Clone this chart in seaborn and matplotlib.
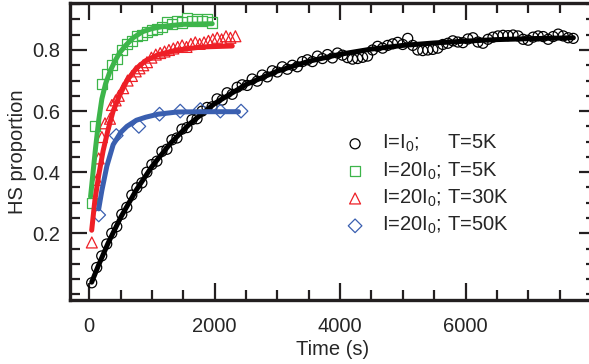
import numpy as np
import pandas as pd
import seaborn as sns
import matplotlib.pyplot as plt
from matplotlib.ticker import MultipleLocator, FixedLocator

# data
black_t = [38, 118, 198, 278, 358, 438, 518, 598, 678, 758,
           838, 918, 998, 1078, 1158, 1238, 1318, 1398, 1478, 1558,
           1638, 1718, 1798, 1878, 1958, 2038, 2118, 2198, 2278, 2358,
           2438, 2518, 2598, 2678, 2758, 2838, 2918, 2998, 3078, 3158,
           3238, 3318, 3398, 3478, 3558, 3638, 3718, 3798, 3878, 3958,
           4038, 4118, 4198, 4278, 4358, 4438, 4518, 4598, 4678, 4758,
           4838, 4918, 4998, 5078, 5158, 5238, 5318, 5398, 5478, 5558,
           5638, 5718, 5798, 5878, 5958, 6038, 6118, 6198, 6278, 6358,
           6438, 6518, 6598, 6678, 6758, 6838, 6918, 6998, 7078, 7158,
           7238, 7318, 7398, 7478, 7558, 7638, 7718]
black_y = [0.038, 0.088, 0.126, 0.165, 0.200, 0.222, 0.262, 0.285, 0.325, 0.349,
           0.365, 0.400, 0.425, 0.436, 0.468, 0.475, 0.506, 0.512, 0.541, 0.546,
           0.572, 0.575, 0.600, 0.612, 0.614, 0.640, 0.636, 0.660, 0.655, 0.678,
           0.686, 0.684, 0.705, 0.698, 0.718, 0.712, 0.732, 0.728, 0.745, 0.737,
           0.750, 0.745, 0.762, 0.768, 0.762, 0.780, 0.772, 0.785, 0.774, 0.790,
           0.783, 0.775, 0.770, 0.772, 0.776, 0.780, 0.800, 0.812, 0.806, 0.815,
           0.820, 0.825, 0.818, 0.838, 0.815, 0.800, 0.798, 0.800, 0.802, 0.806,
           0.818, 0.822, 0.830, 0.826, 0.824, 0.836, 0.840, 0.826, 0.822, 0.835,
           0.842, 0.846, 0.848, 0.847, 0.849, 0.846, 0.835, 0.832, 0.842, 0.846,
           0.844, 0.835, 0.844, 0.852, 0.846, 0.840, 0.838]
black_fit_t = [38, 150, 300, 500, 750, 1000, 1300, 1600, 2000, 2500, 3000, 3500,
               4000, 4500, 5000, 5500, 6000, 6500, 7000, 7720]
black_fit_y = [0.040, 0.097, 0.168, 0.252, 0.342, 0.419, 0.496, 0.558, 0.625, 0.687,
               0.731, 0.763, 0.786, 0.803, 0.815, 0.823, 0.829, 0.834, 0.837, 0.840]

green_t = [40, 90, 200, 280, 360, 440, 520, 600, 680, 760, 840, 920, 1000,
           1080, 1160, 1240, 1320, 1400, 1480, 1560, 1640, 1720, 1800, 1880, 1960]
green_y = [0.30, 0.55, 0.69, 0.72, 0.75, 0.77, 0.80, 0.82, 0.83, 0.845, 0.85, 0.86, 0.865,
           0.87, 0.875, 0.89, 0.885, 0.895, 0.89, 0.905, 0.895, 0.90, 0.895, 0.90, 0.89]
green_fit_t = [20, 60, 100, 150, 200, 260, 330, 400, 480, 580, 700, 850, 1000, 1200, 1500, 1960]
green_fit_y = [0.32, 0.40, 0.48, 0.57, 0.64, 0.69, 0.73, 0.76, 0.79, 0.815, 0.84, 0.86,
               0.87, 0.878, 0.884, 0.886]

red_t = [40, 120, 150, 200, 250, 330, 360, 420, 470, 540, 610, 680, 740, 800, 860, 920,
         990, 1060, 1130, 1200, 1270, 1340, 1410, 1480, 1550, 1620, 1690, 1760, 1830,
         1900, 1970, 2040, 2110, 2180, 2250, 2330]
red_y = [0.17, 0.375, 0.445, 0.515, 0.56, 0.575, 0.62, 0.635, 0.65, 0.675, 0.70, 0.715,
         0.73, 0.74, 0.75, 0.76, 0.775, 0.785, 0.79, 0.795, 0.80, 0.805, 0.81, 0.815,
         0.81, 0.82, 0.825, 0.82, 0.825, 0.83, 0.835, 0.84, 0.835, 0.845, 0.84, 0.845]
red_fit_t = [38, 90, 150, 220, 300, 380, 480, 600, 750, 900, 1100, 1400, 1800, 2280]
red_fit_y = [0.21, 0.31, 0.39, 0.47, 0.54, 0.60, 0.65, 0.70, 0.74, 0.765, 0.785, 0.80, 0.81, 0.813]

blue_t = [150, 430, 790, 1120, 1450, 1770, 2090, 2420]
blue_y = [0.26, 0.52, 0.55, 0.59, 0.60, 0.605, 0.60, 0.60]
blue_fit_t = [150, 200, 280, 380, 500, 600, 750, 900, 1100, 1400, 1800, 2380]
blue_fit_y = [0.28, 0.34, 0.42, 0.49, 0.53, 0.55, 0.57, 0.58, 0.59, 0.597, 0.598, 0.598]

x_ticks = [0, 2000, 4000, 6000]
y_ticks = [0.2, 0.4, 0.6, 0.8]
labels = ["I=I$_0$;     T=5K", "I=20I$_0$; T=5K", "I=20I$_0$; T=30K", "I=20I$_0$; T=50K"]

sns.set_style("ticks")
plt.rcParams["font.family"] = ["Liberation Sans", "DejaVu Sans"]
plt.rcParams["mathtext.fontset"] = "custom"
plt.rcParams["mathtext.rm"] = "Liberation Sans"
plt.rcParams["mathtext.it"] = "Liberation Sans"

fs = 14.5
fig = plt.figure(figsize=(5.89, 3.64), dpi=100)
ax = fig.add_axes([70 / 589, 64 / 364, 526 / 589, 297 / 364])

series = [
    (black_t, black_y, black_fit_t, black_fit_y, "black", "o", 52),
    (green_t, green_y, green_fit_t, green_fit_y, "#3db54a", "s", 52),
    (red_t, red_y, red_fit_t, red_fit_y, "#ee1f26", "^", 62),
    (blue_t, blue_y, blue_fit_t, blue_fit_y, "#3a5fb0", "D", 48),
]

for (t, y, ft, fy, c, m, s), lab in zip(series, labels):
    sns.scatterplot(x=t, y=y, ax=ax, marker=m, s=s, color=c, facecolors="none",
                    edgecolor=c, linewidth=0.9, label=lab, zorder=2)
    sns.lineplot(x=ft, y=fy, ax=ax, color=c, linewidth=3.6, legend=False, zorder=3)

ax.set_xlim(-308, 8081)
ax.set_ylim(-0.0183, 0.9538)
ax.xaxis.set_major_locator(FixedLocator(x_ticks))
ax.xaxis.set_minor_locator(MultipleLocator(500))
ax.yaxis.set_major_locator(FixedLocator(y_ticks))
ax.yaxis.set_minor_locator(MultipleLocator(0.05))
ax.set_yticklabels([f"{v:.1f}" for v in y_ticks])

ax.tick_params(which="both", direction="in", top=True, right=True, width=1.6, color="#231f20")
ax.tick_params(which="major", length=12.5)
ax.tick_params(which="minor", length=7)
ax.tick_params(axis="x", which="major", pad=12, labelsize=fs)
ax.tick_params(axis="y", which="major", pad=7, labelsize=fs)
for sp in ax.spines.values():
    sp.set_linewidth(2.4)
    sp.set_color("#231f20")

ax.set_xlabel("Time (s)", fontsize=fs, labelpad=3)
ax.set_ylabel("HS proportion", fontsize=fs, labelpad=4)

ax.legend(frameon=False, loc="upper left", bbox_to_anchor=(0.519, 0.562),
          borderpad=0, borderaxespad=0, handlelength=1.2, handletextpad=0.74,
          labelspacing=0.3, fontsize=fs)

fig.savefig("out.png", dpi=100)
